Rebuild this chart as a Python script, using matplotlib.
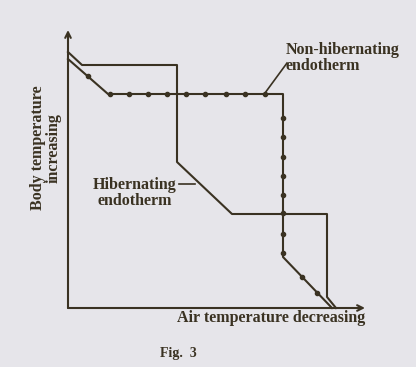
import matplotlib.pyplot as plt

# line vertices (x = air temperature drop, y = body temperature), arbitrary units
hib_x = [0, 14, 109, 109, 164, 259, 259, 268]
hib_y = [256, 243, 243, 146, 94, 94, 11, 0]

nonhib_x = [0, 40, 215, 215, 264]
nonhib_y = [249, 214, 214, 51, 0]

# dots marked along the non-hibernating line
dot_x = [20, 42, 61, 80, 99, 118, 137, 158, 177, 197,
         215, 215, 215, 215, 215, 215, 215, 215, 234, 249]
dot_y = [232, 214, 214, 214, 214, 214, 214, 214, 214, 214,
         190, 171, 151, 132, 113, 95, 74, 55, 31, 15]

bg = '#e6e5ea'
ink = '#3a3222'
plt.rcParams['font.family'] = ['Liberation Serif', 'DejaVu Serif']

fig = plt.figure(figsize=(4.16, 3.67), dpi=100, facecolor=bg)
ax = fig.add_axes([68/416, 59/367, 297/416, 278/367])
ax.set_facecolor(bg)
ax.set_xlim(0, 297)
ax.set_ylim(0, 278)
ax.axis('off')

# axes with arrow heads
ax.annotate('', xy=(297, 0), xytext=(0, 0),
            arrowprops=dict(arrowstyle='->', color=ink, lw=1.5, shrinkA=0, shrinkB=0))
ax.annotate('', xy=(0, 278), xytext=(0, 0),
            arrowprops=dict(arrowstyle='->', color=ink, lw=1.5, shrinkA=0, shrinkB=0))

ax.plot(hib_x, hib_y, color=ink, lw=1.5, clip_on=False)
ax.plot(nonhib_x, nonhib_y, color=ink, lw=1.5, clip_on=False)
ax.plot(dot_x, dot_y, 'o', color=ink, ms=3, clip_on=False)

# labels
ax.text(-22, 160, 'Body temperature\nincreasing', rotation=90, ha='center', va='center',
        fontsize=11.5, fontweight='bold', color=ink, linespacing=1.0)
ax.text(297, -10, 'Air temperature decreasing', ha='right', va='center',
        fontsize=11.5, fontweight='bold', color=ink)
ax.text(110, -46, 'Fig.  3', ha='center', va='center',
        fontsize=10, fontweight='bold', color=ink)

ax.text(67, 115, 'Hibernating\nendotherm', ha='center', va='center',
        fontsize=11.5, fontweight='bold', color=ink, linespacing=1.0)
ax.plot([111, 127], [124, 124], color=ink, lw=1.2)

ax.text(218, 250, 'Non-hibernating\nendotherm', ha='left', va='center',
        fontsize=11.5, fontweight='bold', color=ink, linespacing=1.0)
ax.plot([197, 219], [215, 245], color=ink, lw=1.2)

fig.savefig('out.png', dpi=100, facecolor=bg)
